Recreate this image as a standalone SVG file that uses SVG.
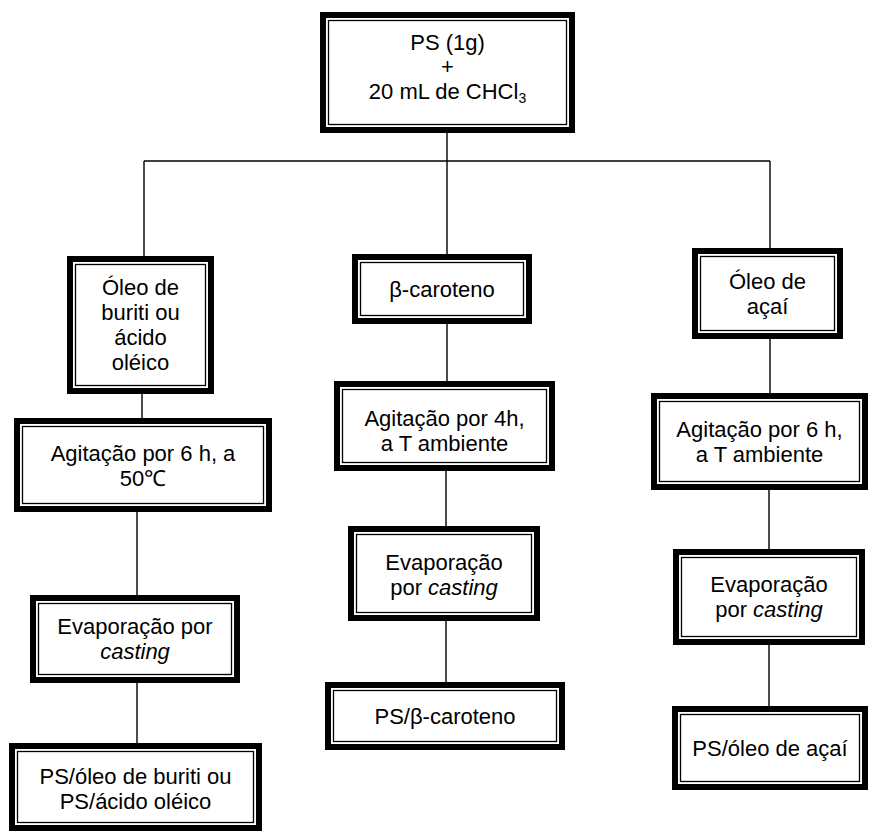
<svg xmlns="http://www.w3.org/2000/svg" width="874" height="834" viewBox="0 0 874 834">
<style>
.o{fill:#fff;stroke:#000;stroke-width:6}
.i{fill:none;stroke:#000;stroke-width:1.3}
.c{fill:none;stroke:#000;stroke-width:1.4}
text{font-family:"Liberation Sans",Arial,sans-serif;font-size:22px;fill:#000;text-anchor:middle}
.it{font-style:italic}
</style>
<rect width="874" height="834" fill="#fff"/>
<g id="connectors" class="c">
<path d="M447 133V161M144 161H770M144 161V256M447 161V254M770 161V248"/>
<path d="M142 394V418M137 512V595M137 683V743"/>
<path d="M447 324V381M446 471V526M446 621V682"/>
<path d="M770 339V393M769 490V549M769 645V706"/>
</g>
<g id="n0"><rect class="o" x="323" y="15" width="249" height="115"/><rect class="i" x="328.5" y="20.5" width="238" height="104"/>
<text x="447.5" y="50">PS (1g)</text><text x="447.5" y="74">+</text><text x="447.5" y="99">20 mL de CHCl<tspan font-size="14" dy="4">3</tspan></text></g>
<g id="l1"><rect class="o" x="70" y="259" width="141" height="132"/><rect class="i" x="75.5" y="264.5" width="130" height="121"/>
<text x="140.5" y="295">Óleo de</text><text x="140.5" y="320">buriti ou</text><text x="140.5" y="345">ácido</text><text x="140.5" y="370">oléico</text></g>
<g id="l2"><rect class="o" x="17" y="421" width="252" height="88"/><rect class="i" x="22.5" y="426.5" width="241" height="77"/>
<text x="143" y="461">Agitação por 6 h, a</text><text x="143" y="486">50℃</text></g>
<g id="l3"><rect class="o" x="33" y="598" width="204" height="82"/><rect class="i" x="38.5" y="603.5" width="193" height="71"/>
<text x="135" y="634">Evaporação por</text><text x="135" y="659" class="it">casting</text></g>
<g id="l4"><rect class="o" x="12" y="746" width="247" height="82"/><rect class="i" x="17.5" y="751.5" width="236" height="71"/>
<text x="135.5" y="784">PS/óleo de buriti ou</text><text x="135.5" y="809">PS/ácido oléico</text></g>
<g id="m1"><rect class="o" x="355" y="257" width="174" height="64"/><rect class="i" x="360.5" y="262.5" width="163" height="53"/>
<text x="442" y="297">β-caroteno</text></g>
<g id="m2"><rect class="o" x="337" y="384" width="215" height="84"/><rect class="i" x="342.5" y="389.5" width="204" height="73"/>
<text x="444.5" y="426">Agitação por 4h,</text><text x="444.5" y="451">a T ambiente</text></g>
<g id="m3"><rect class="o" x="351" y="529" width="186" height="89"/><rect class="i" x="356.5" y="534.5" width="175" height="78"/>
<text x="444" y="570">Evaporação</text><text x="444" y="595">por <tspan class="it">casting</tspan></text></g>
<g id="m4"><rect class="o" x="328" y="685" width="234" height="62"/><rect class="i" x="333.5" y="690.5" width="223" height="51"/>
<text x="445" y="724">PS/β-caroteno</text></g>
<g id="r1"><rect class="o" x="695" y="251" width="145" height="85"/><rect class="i" x="700.5" y="256.5" width="134" height="74"/>
<text x="767.5" y="289">Óleo de</text><text x="767.5" y="314">açaí</text></g>
<g id="r2"><rect class="o" x="654" y="396" width="211" height="91"/><rect class="i" x="659.5" y="401.5" width="200" height="80"/>
<text x="759.5" y="437">Agitação por 6 h,</text><text x="759.5" y="462">a T ambiente</text></g>
<g id="r3"><rect class="o" x="676" y="552" width="186" height="90"/><rect class="i" x="681.5" y="557.5" width="175" height="79"/>
<text x="769" y="592">Evaporação</text><text x="769" y="617">por <tspan class="it">casting</tspan></text></g>
<g id="r4"><rect class="o" x="675" y="709" width="190" height="78"/><rect class="i" x="680.5" y="714.5" width="179" height="67"/>
<text x="770" y="756">PS/óleo de açaí</text></g>
</svg>
